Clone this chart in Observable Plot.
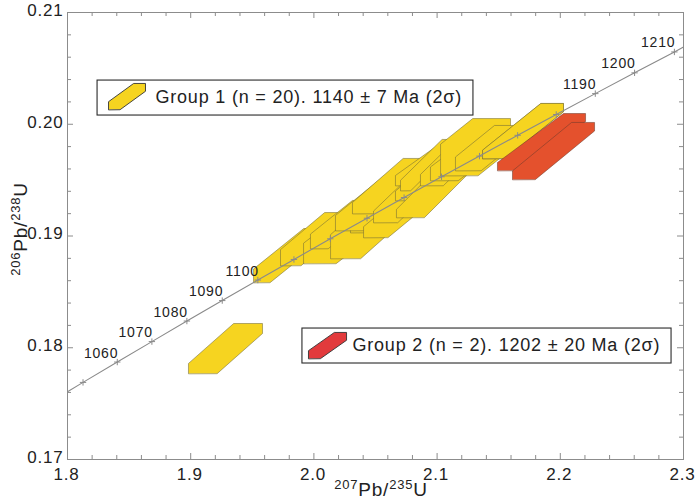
<!DOCTYPE html>
<html><head><meta charset="utf-8">
<script src="https://cdn.jsdelivr.net/npm/d3@7"></script>
<script src="https://cdn.jsdelivr.net/npm/@observablehq/plot@0.6"></script>
<style>
body{margin:0;background:#fff;}
#chart svg text{letter-spacing:0.8px;}
</style></head><body><div id="chart"></div>
<script>
// ---- Concordia curve (age Ma, 207Pb/235U, 206Pb/238U) ----
const concAge = [1045.5,1050,1060,1070,1080,1090,1100,1110,1120,1130,1140,1150,1160,1170,1180,1190,1200,1210,1212.3];
const concX   = [1.8000,1.8126,1.8404,1.8685,1.8969,1.9256,1.9545,1.9838,2.0133,2.0431,2.0732,2.1036,2.1344,2.1654,2.1967,2.2284,2.2603,2.2926,2.3000];
const concY   = [0.17606,0.17690,0.17872,0.18055,0.18239,0.18422,0.18606,0.18790,0.18975,0.19159,0.19344,0.19530,0.19715,0.19901,0.20087,0.20274,0.20460,0.20647,0.20692];
const concTickAges  = [1050,1060,1070,1080,1090,1100,1110,1120,1130,1140,1150,1160,1170,1180,1190,1200,1210];
const concLabelAges = [1060,1070,1080,1090,1100,1190,1200,1210];

// ---- Error boxes (group, x range, y range, corner cut fractions) ----
const boxGroup = [1,1,1,1,1,1,1,1,1,1,1,1,1,1,1,1,1,1,1,1,1,2,2];
const boxXMin = [1.8982,1.9510,1.9729,1.9916,1.9972,2.0135,2.0297,2.0175,2.0313,2.0403,2.0484,2.0662,2.0670,2.0662,2.0703,2.0865,2.0946,2.1028,2.1149,2.1369,2.1369,2.1490,2.1612];
const boxXMax = [1.9583,2.0054,2.0256,2.0581,2.0459,2.0784,2.0727,2.0865,2.0946,2.1028,2.1068,2.1231,2.1271,2.1149,2.1125,2.1417,2.1515,2.1596,2.1677,2.2026,2.2026,2.2205,2.2278];
const boxYMin = [0.17770,0.18584,0.18736,0.18754,0.18888,0.18799,0.19031,0.19049,0.19201,0.18987,0.19121,0.19318,0.19166,0.19452,0.19407,0.19452,0.19497,0.19541,0.19586,0.19694,0.19694,0.19586,0.19506];
const boxYMax = [0.18217,0.19067,0.19210,0.19273,0.19318,0.19407,0.19416,0.19586,0.19694,0.19470,0.19631,0.19738,0.19649,0.19810,0.19864,0.19944,0.19899,0.20051,0.19989,0.20186,0.20186,0.20096,0.20016];
const boxCutA = [0.20,0.25,0.30,0.35,0.30,0.35,0.25,0.25,0.20,0.20,0.20,0.20,0.15,0.25,0.20,0.20,0.30,0.55,0.30,0.15,0.15,0.14,0.15];
const boxCutB = [0.61,0.75,0.68,0.60,0.70,0.62,0.62,0.65,0.65,0.68,0.66,0.64,0.62,0.70,0.80,0.66,0.60,0.46,0.60,0.72,0.72,0.75,0.72];

// ---- Axes ----
const xTicks = [1.8,1.9,2.0,2.1,2.2,2.3];
const xMinorTicks = [1.82,1.84,1.86,1.88,1.92,1.94,1.96,1.98,2.02,2.04,2.06,2.08,2.12,2.14,2.16,2.18,2.22,2.24,2.26,2.28];
const yTicks = [0.17,0.18,0.19,0.20,0.21];
const yMinorTicks = [0.172,0.174,0.176,0.178,0.182,0.184,0.186,0.188,0.192,0.194,0.196,0.198,0.202,0.204,0.206,0.208];

// ---- Legend ----
const legendGroups = [1,2];
const legendLabels = ["Group 1 (n = 20). 1140 ± 7 Ma (2σ)", "Group 2 (n = 2). 1202 ± 20 Ma (2σ)"];

// ---------------------------------------------------------------
const W = 695, H = 500, mL = 67, mR = 12, mT = 12, mB = 41;
const xDom = [1.8, 2.3], yDom = [0.17, 0.21];
const kx = (xDom[1]-xDom[0])/(W-mL-mR);   // data units per px
const ky = (yDom[1]-yDom[0])/(H-mT-mB);

function hex(id, x0, x1, y0, y1, a, b) {
  const U = [[0,0],[0,a],[b,1],[1,1],[1,1-a],[1-b,0]];
  return U.map(([u,v]) => ({id, x: x0 + u*(x1-x0), y: y0 + v*(y1-y0)}));
}
const boxes = boxGroup.map((g,i)=>({g, pts: hex(i, boxXMin[i], boxXMax[i], boxYMin[i], boxYMax[i], boxCutA[i], boxCutB[i])}));
const yellowPts = boxes.filter(d=>d.g===1).flatMap(d=>d.pts);
const redPts = boxes.filter(d=>d.g===2).flatMap(d=>d.pts);

const conc = concAge.map((t,i)=>({age:t, x:concX[i], y:concY[i]}));
const concTicks = conc.filter(d=>concTickAges.includes(d.age));
const concLabels = conc.filter(d=>concLabelAges.includes(d.age));

// legend layout (data units)
const legendLayout = [
  {x1: 1.8244, x2: 2.1295, y1: 0.20078, y2: 0.20391, sx1: 1.8333, sx2: 1.8633, sy1: 0.20132, sy2: 0.20365, tx: 1.8714, ty: 0.20239},
  {x1: 1.9907, x2: 2.2903, y1: 0.17859, y2: 0.18172, sx1: 1.9956, sx2: 2.0265, sy1: 0.17904, sy2: 0.18137, tx: 2.0313, ty: 0.18020}
];
const legend = legendGroups.map((g,i)=>({g, label: legendLabels[i], ...legendLayout[i]}));
const legendSw = legend.map((d,i)=>({g:d.g, pts: hex("L"+i, d.sx1, d.sx2, d.sy1, d.sy2, 0.3, 0.68)}));

const YEL = "#f6d420", RED = "#e4512d", RED_LEG = "#e23a3c";
const tickLenMaj = 6, tickLenMin = 4;
const frameCol = "#8c8c8c";

const svg = Plot.plot({
  width: W, height: H,
  marginLeft: mL, marginRight: mR, marginTop: mT, marginBottom: mB,
  style: {fontFamily: "'Liberation Sans', Arial, Helvetica, sans-serif", fontSize: "17px", color: "#222", background: "#fff"},
  x: {domain: xDom, ticks: xTicks, tickSize: 0, tickPadding: 8, tickFormat: d3.format(".1f"), label: null},
  y: {domain: yDom, ticks: yTicks, tickSize: 0, tickPadding: 4, tickFormat: d3.format(".2f"), label: null},
  marks: [
    Plot.line(yellowPts, {x:"x", y:"y", z:"id", curve:"linear-closed", fill: YEL, stroke:"#6b6638", strokeWidth:0.7, strokeOpacity:0.75}),
    Plot.line(redPts, {x:"x", y:"y", z:"id", curve:"linear-closed", fill: RED, stroke:"#6b3a2a", strokeWidth:0.7, strokeOpacity:0.75}),
    Plot.line(conc, {x:"x", y:"y", stroke:"#8a8a8a", strokeWidth:1.1}),
    Plot.dot(concTicks, {x:"x", y:"y", symbol:"plus", r:2.2, stroke:"#8a8a8a", strokeWidth:1}),
    Plot.text(concLabels, {x:"x", y:"y", text: d=>String(d.age), textAnchor:"end", dx:1, dy:-9, fontSize:14, fill:"#222"}),
    // inward ticks on all four sides
    Plot.ruleX(xTicks, {y1: yDom[0], y2: yDom[0] + tickLenMaj*ky, stroke: frameCol}),
    Plot.ruleX(xTicks, {y1: yDom[1], y2: yDom[1] - tickLenMaj*ky, stroke: frameCol}),
    Plot.ruleX(xMinorTicks, {y1: yDom[0], y2: yDom[0] + tickLenMin*ky, stroke: frameCol}),
    Plot.ruleX(xMinorTicks, {y1: yDom[1], y2: yDom[1] - tickLenMin*ky, stroke: frameCol}),
    Plot.ruleY(yTicks, {x1: xDom[0], x2: xDom[0] + tickLenMaj*kx, stroke: frameCol}),
    Plot.ruleY(yTicks, {x1: xDom[1], x2: xDom[1] - tickLenMaj*kx, stroke: frameCol}),
    Plot.ruleY(yMinorTicks, {x1: xDom[0], x2: xDom[0] + tickLenMin*kx, stroke: frameCol}),
    Plot.ruleY(yMinorTicks, {x1: xDom[1], x2: xDom[1] - tickLenMin*kx, stroke: frameCol}),
    Plot.frame({stroke: frameCol, strokeWidth: 1}),
    // legends
    Plot.rect(legend, {x1:"x1", x2:"x2", y1:"y1", y2:"y2", fill:"#fff", stroke:"#2a2a2a", strokeWidth:1.1}),
    Plot.line(legendSw[0].pts, {x:"x", y:"y", curve:"linear-closed", fill: YEL, stroke:"#333", strokeWidth:0.9}),
    Plot.line(legendSw[1].pts, {x:"x", y:"y", curve:"linear-closed", fill: RED_LEG, stroke:"#333", strokeWidth:0.9}),
    Plot.text(legend, {x:"tx", y:"ty", text:"label", textAnchor:"start", fontSize:18, fill:"#222"})
  ]
});

const s = d3.select(svg);
// keep the last x tick label inside the page edge; lift the y tick labels slightly
s.selectAll("g[aria-label='x-axis tick label'] text").attr("dx", -1);
s.selectAll("g[aria-label='y-axis tick label']").each(function() {
  const t = this.getAttribute("transform") || "";
  this.setAttribute("transform", (t + " translate(0,-2)").trim());
});

// axis titles with superscripts
function title(sel, sup1, main1, sup2, main2) {
  sel.attr("text-anchor","middle").attr("font-size",19).attr("fill","#222");
  sel.append("tspan").attr("font-size",13).attr("dy",-7).text(sup1);
  sel.append("tspan").attr("dy",7).text(main1);
  sel.append("tspan").attr("font-size",13).attr("dy",-7).text(sup2);
  sel.append("tspan").attr("dy",7).text(main2);
}
title(s.append("text").attr("x", 381).attr("y", 496), "207", "Pb/", "235", "U");
title(s.append("text").attr("transform", "translate(27,229) rotate(-90)"), "206", "Pb/", "238", "U");

document.getElementById("chart").appendChild(svg);
</script></body></html>
